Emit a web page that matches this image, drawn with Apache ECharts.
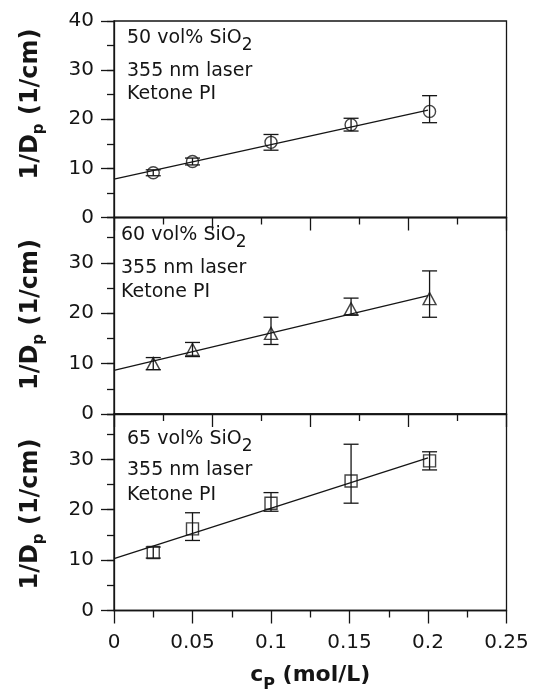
<!DOCTYPE html>
<html>
<head>
<meta charset="utf-8">
<script src="https://cdn.jsdelivr.net/npm/echarts@6/dist/echarts.min.js"></script>
<style>
  html, body { margin: 0; padding: 0; background: #fff; }
  #chart { width: 533px; height: 693px; }
</style>
</head>
<body>
<div id="chart"></div>
<script>
// Photoinitiator concentration c_P (mol/L)
const concentration = [0.025, 0.05, 0.1, 0.151, 0.201];

// 50 vol% SiO2: 1/Dp (1/cm) with error bar limits and linear fit (at c = 0 and c = 0.2)
const si50Value = [9.1, 11.4, 15.3, 18.9, 21.6];
const si50Upper = [9.7, 12.1, 16.9, 20.2, 24.8];
const si50Lower = [8.5, 10.7, 13.7, 17.6, 19.3];
const si50Fit = [7.8, 21.85];

// 60 vol% SiO2
const si60Value = [10.0, 12.8, 16.0, 20.9, 22.9];
const si60Upper = [11.2, 14.2, 19.2, 23.0, 28.4];
const si60Lower = [8.8, 11.4, 13.8, 19.6, 19.2];
const si60Fit = [8.65, 23.5];

// 65 vol% SiO2
const si65Value = [11.5, 16.2, 21.3, 25.7, 29.7];
const si65Upper = [12.6, 19.4, 23.4, 33.0, 31.5];
const si65Lower = [10.4, 13.9, 19.7, 21.3, 27.9];
const si65Fit = [10.3, 30.3];

const fitRange = [0, 0.2];
const silicaLoading = [50, 60, 65];
const noteLines = ['355 nm laser', 'Ketone PI'];
const xTickLabels = ['0', '0.05', '0.1', '0.15', '0.2', '0.25'];
const yTickLabels = ['0', '10', '20', '30', '40'];

// ---- layout & style ----
const INK = '#151515';
const FONT = 'DejaVu Sans';
const LW = 1.3;
const panelTops = [21, 217.5, 414];
const panelHeight = 196.5;
const plotLeft = 114, plotWidth = 392.5;
const yMax = [40, 39, 39];
const symbols = ['circle', 'triangle', 'rect'];
const symbolSizes = [12, [13, 12], 12];
const panels = [
  { value: si50Value, upper: si50Upper, lower: si50Lower, fit: si50Fit },
  { value: si60Value, upper: si60Upper, lower: si60Lower, fit: si60Fit },
  { value: si65Value, upper: si65Upper, lower: si65Lower, fit: si65Fit }
];
const notePos = [
  { x: 127, base: [45, 78, 100.5] },
  { x: 121, base: [241.7, 275, 298.5] },
  { x: 127, base: [446, 477, 501.5] }
];
const yTitleCenter = [104, 314.5, 514];

const lineStyle = { color: INK, width: LW };

const grids = panelTops.map(t => ({
  left: plotLeft, width: plotWidth, top: t, height: panelHeight,
  show: true, borderColor: INK, borderWidth: LW, backgroundColor: 'transparent'
}));

const xAxes = [0, 1, 2].map(i => ({
  type: 'value', gridIndex: i, position: 'bottom', min: 0, max: 0.25,
  interval: i === 2 ? 0.05 : 0.0625,
  axisLine: { show: true, onZero: false, lineStyle },
  axisTick: { show: true, inside: false, length: 13, lineStyle },
  minorTick: { show: true, splitNumber: 2, length: 7, lineStyle },
  splitLine: { show: false },
  minorSplitLine: { show: false },
  axisLabel: i === 2 ? {
    show: true, margin: 22, color: INK, fontFamily: FONT, fontSize: 20,
    formatter: v => xTickLabels[Math.round(v / 0.05)]
  } : { show: false }
}));

const yAxes = [];
[0, 1, 2].forEach(i => {
  // major ticks with labels
  yAxes.push({
    type: 'value', gridIndex: i, position: 'left', offset: 0,
    min: 0, max: yMax[i], interval: 10,
    axisLine: { show: true, onZero: false, lineStyle },
    axisTick: { show: true, inside: false, length: 13, lineStyle },
    splitLine: { show: false },
    axisLabel: {
      show: true, margin: 20, color: INK, fontFamily: FONT, fontSize: 20,
      showMaxLabel: i === 0,
      formatter: v => (v % 10 === 0 ? yTickLabels[v / 10] : '')
    }
  });
  // minor ticks every 5
  yAxes.push({
    type: 'value', gridIndex: i, position: 'left', offset: 0,
    min: 0, max: yMax[i], interval: 5,
    axisLine: { show: false, onZero: false },
    axisTick: { show: true, inside: false, length: 7, lineStyle },
    splitLine: { show: false },
    axisLabel: { show: false }
  });
});

const series = [];
panels.forEach((p, i) => {
  // linear fit
  series.push({
    type: 'line', xAxisIndex: i, yAxisIndex: 2 * i,
    data: [[fitRange[0], p.fit[0]], [fitRange[1], p.fit[1]]],
    symbol: 'none', lineStyle: { color: INK, width: LW }, silent: true, z: 2
  });
  // error bars
  series.push({
    type: 'custom', xAxisIndex: i, yAxisIndex: 2 * i, silent: true, z: 3,
    data: concentration.map((c, k) => [c, p.lower[k], p.upper[k]]),
    encode: { x: 0, y: [1, 2] },
    renderItem: (params, api) => {
      const hi = api.coord([api.value(0), api.value(2)]);
      const lo = api.coord([api.value(0), api.value(1)]);
      const hw = 7.5;
      const st = { stroke: INK, lineWidth: LW };
      return {
        type: 'group', children: [
          { type: 'line', shape: { x1: hi[0], y1: hi[1], x2: lo[0], y2: lo[1] }, style: st },
          { type: 'line', shape: { x1: hi[0] - hw, y1: hi[1], x2: hi[0] + hw, y2: hi[1] }, style: st },
          { type: 'line', shape: { x1: lo[0] - hw, y1: lo[1], x2: lo[0] + hw, y2: lo[1] }, style: st }
        ]
      };
    }
  });
  // open markers
  series.push({
    type: 'scatter', xAxisIndex: i, yAxisIndex: 2 * i, z: 4,
    data: concentration.map((c, k) => [c, p.value[k]]),
    symbol: symbols[i], symbolSize: symbolSizes[i],
    itemStyle: { color: 'rgba(0,0,0,0)', borderColor: INK, borderWidth: 1.4 }
  });
});

// texts with subscripts
const graphic = [];
const subRich = (mainSize, subSize, pad, bold) => ({
  m: { fontSize: mainSize, fontFamily: FONT, fontWeight: bold ? 'bold' : 'normal', fill: INK, verticalAlign: 'top' },
  s: { fontSize: subSize, fontFamily: FONT, fontWeight: bold ? 'bold' : 'normal', fill: INK, verticalAlign: 'top', padding: [pad, 0, 0, 0] }
});

// x axis title
graphic.push({
  type: 'text', x: plotLeft + plotWidth / 2, y: 664,
  style: { text: '{m|c}{s|P}{m| (mol/L)}', align: 'center', verticalAlign: 'top', rich: subRich(22, 16, 13, true) }
});
// y axis titles
yTitleCenter.forEach(cy => {
  graphic.push({
    type: 'text', x: 19, y: cy, rotation: Math.PI / 2,
    style: { text: '{m|1/D}{s|p}{m| (1/cm)}', align: 'center', verticalAlign: 'top', rich: subRich(24, 15, 13, true) }
  });
});
// panel notes
notePos.forEach((n, i) => {
  graphic.push({
    type: 'text', x: n.x, y: n.base[0] - 16,
    style: { text: '{m|' + silicaLoading[i] + ' vol% SiO}{s|2}', align: 'left', verticalAlign: 'top', rich: subRich(19, 17, 8, false) }
  });
  noteLines.forEach((t, k) => {
    graphic.push({
      type: 'text', x: n.x, y: n.base[k + 1] - 16,
      style: { text: t, align: 'left', verticalAlign: 'top', fontSize: 19, fontFamily: FONT, fill: INK }
    });
  });
});

const chart = echarts.init(document.getElementById('chart'), null, { renderer: 'canvas' });
chart.setOption({
  animation: false,
  backgroundColor: '#fff',
  grid: grids,
  xAxis: xAxes,
  yAxis: yAxes,
  series,
  graphic
});
</script>
</body>
</html>
